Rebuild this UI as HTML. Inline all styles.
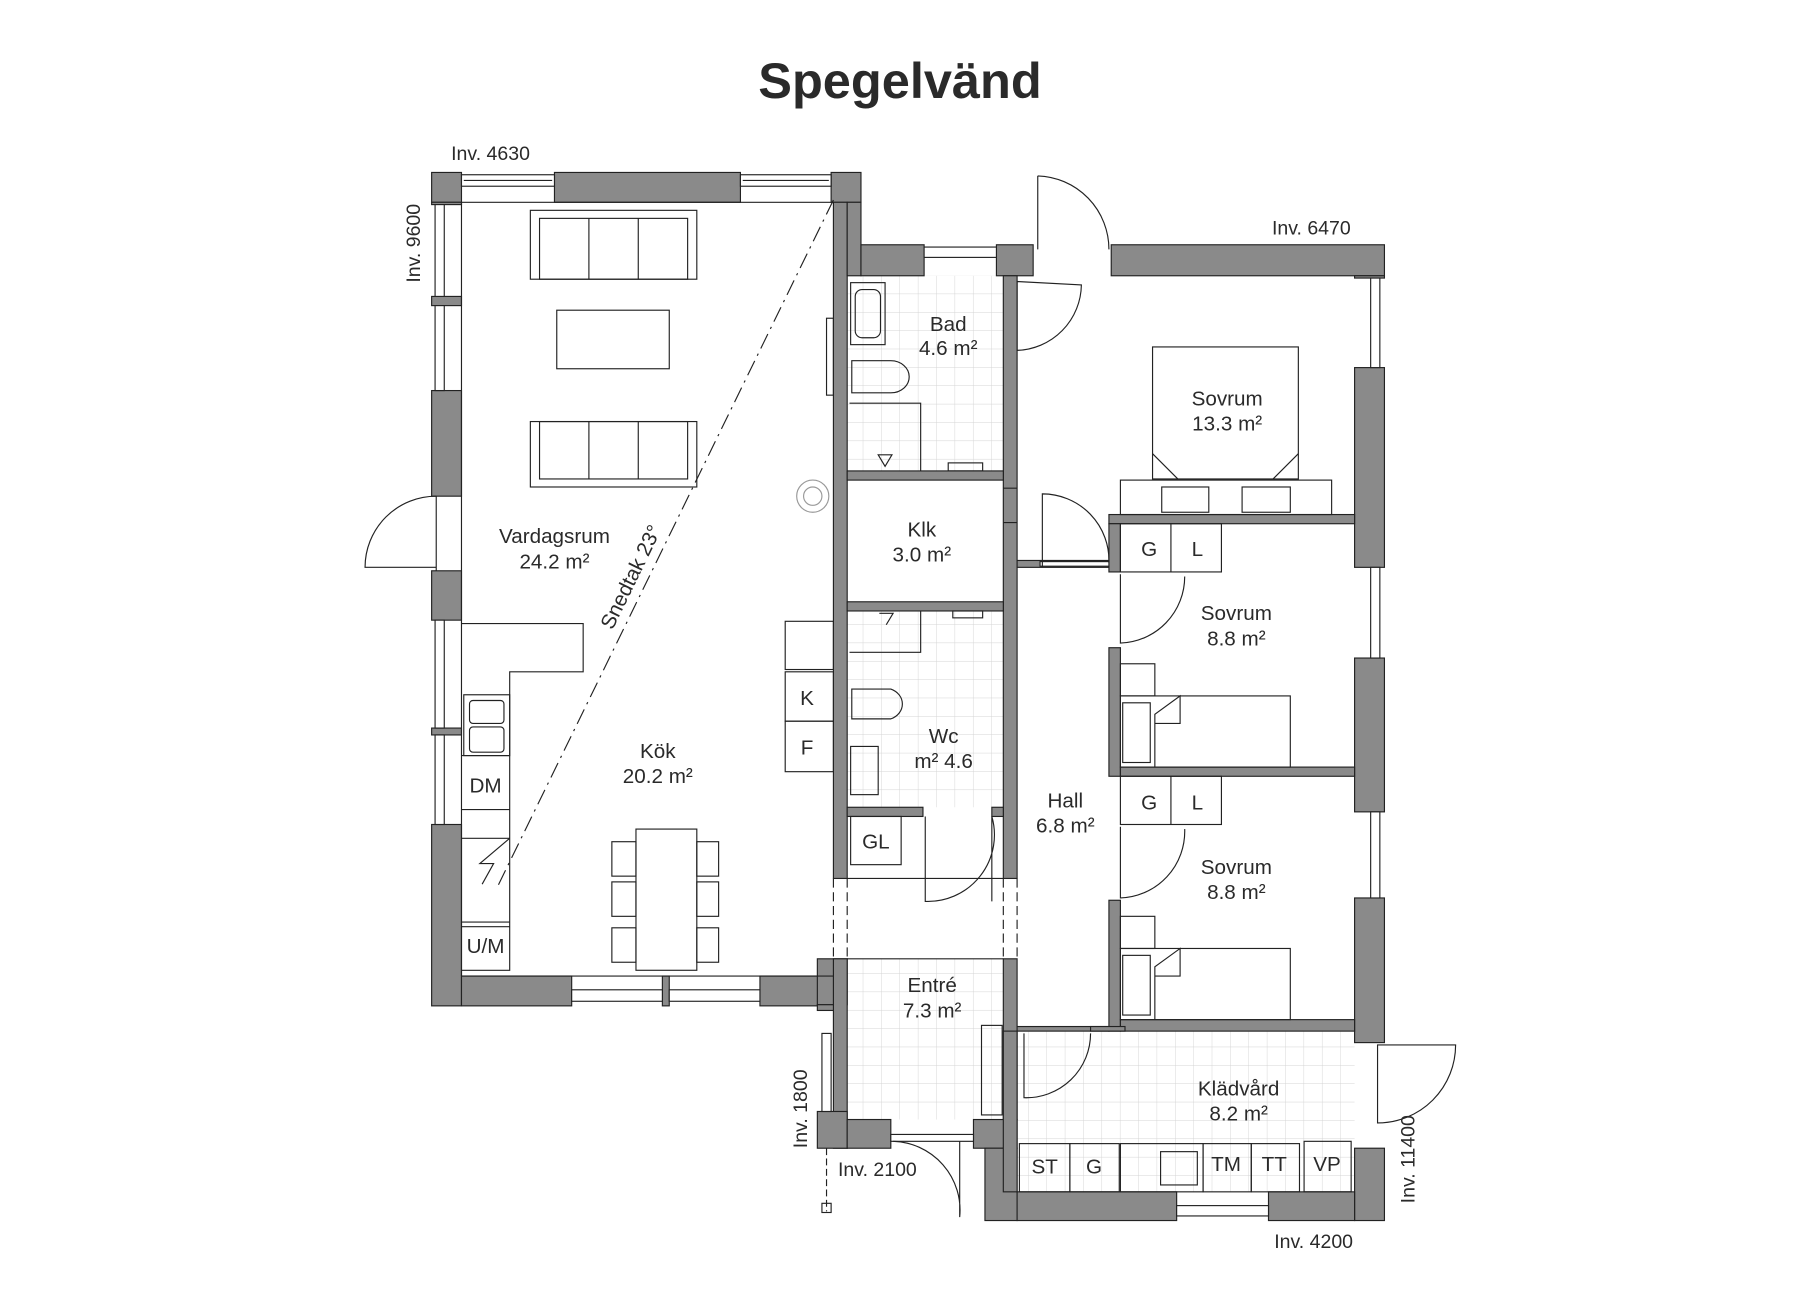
<!DOCTYPE html>
<html><head><meta charset="utf-8"><style>
html,body{margin:0;padding:0;background:#fff}
svg{display:block}
text{font-family:"Liberation Sans",sans-serif;fill:#2a2a2a}
</style></head><body>
<svg width="1800" height="1300" viewBox="0 0 1568 1132" xmlns="http://www.w3.org/2000/svg">
<defs>
<pattern id="tile" width="16" height="16" patternUnits="userSpaceOnUse">
<path d="M16 0V16H0" fill="none" stroke="#d4d4d4" stroke-width="0.8"/>
</pattern>
</defs>
<rect width="1568" height="1132" fill="#fff"/>
<text x="784" y="85" font-size="44" font-weight="bold" text-anchor="middle" fill="#333">Spegelvänd</text>

<rect x="738" y="240" width="136" height="170" fill="url(#tile)"/>
<rect x="738" y="532" width="136" height="171" fill="url(#tile)"/>
<rect x="738" y="835" width="136" height="140" fill="url(#tile)"/>
<rect x="886" y="898" width="294" height="140" fill="url(#tile)"/>

<g fill="#8a8a8a" stroke="#222" stroke-width="1">
<rect x="376" y="150" width="26" height="26"/>
<rect x="483" y="150" width="162" height="26"/>
<rect x="724" y="150" width="26" height="26"/>
<rect x="376" y="176" width="26" height="2"/>
<rect x="376" y="258" width="26" height="8"/>
<rect x="376" y="340" width="26" height="92"/>
<rect x="376" y="497" width="26" height="43"/>
<rect x="376" y="634" width="26" height="6"/>
<rect x="376" y="718" width="26" height="158"/>
<rect x="402" y="850" width="96" height="26"/>
<rect x="577" y="850" width="6" height="26"/>
<rect x="662" y="850" width="64" height="26"/>
<rect x="726" y="176" width="12" height="589"/>
<rect x="738" y="176" width="12" height="64"/>
<rect x="750" y="213" width="55" height="27"/>
<rect x="868" y="213" width="32" height="27"/>
<rect x="874" y="240" width="12" height="525"/>
<rect x="738" y="410" width="136" height="8"/>
<rect x="738" y="524" width="136" height="8"/>
<rect x="738" y="703" width="66" height="8"/>
<rect x="864" y="703" width="10" height="8"/>
<rect x="712" y="835" width="26" height="40"/>
<rect x="726" y="835" width="12" height="165"/>
<rect x="712" y="875" width="14" height="5"/>
<rect x="712" y="968" width="26" height="32"/>
<rect x="738" y="975" width="38" height="25"/>
<rect x="848" y="975" width="38" height="25"/>
<rect x="874" y="835" width="12" height="140"/>
<rect x="858" y="1000" width="28" height="63"/>
<rect x="968" y="213" width="238" height="27"/>
<rect x="1180" y="240" width="26" height="2"/>
<rect x="1180" y="320" width="26" height="174"/>
<rect x="1180" y="573" width="26" height="134"/>
<rect x="1180" y="782" width="26" height="126"/>
<rect x="1180" y="1000" width="26" height="63"/>
<rect x="886" y="1038" width="139" height="25"/>
<rect x="1105" y="1038" width="75" height="25"/>
<rect x="886" y="488" width="80" height="6"/>
<rect x="966" y="448" width="214" height="8"/>
<rect x="966" y="456" width="10" height="42"/>
<rect x="966" y="564" width="10" height="112"/>
<rect x="976" y="668" width="204" height="8"/>
<rect x="966" y="784" width="10" height="114"/>
<rect x="976" y="888" width="204" height="10"/>
<rect x="886" y="894" width="80" height="4"/>
<rect x="950" y="894" width="30" height="4"/>
<rect x="874" y="898" width="12" height="140"/>
</g>

<g fill="#fff" stroke="#222" stroke-width="1">
<rect x="402" y="152" width="81" height="10"/><line x1="404" y1="157" x2="481" y2="157"/>
<rect x="645" y="152" width="79" height="10"/><line x1="647" y1="157" x2="722" y2="157"/>
<rect x="379" y="178" width="8" height="80"/><rect x="379" y="266" width="8" height="74"/>
<rect x="379" y="540" width="8" height="94"/><rect x="379" y="640" width="8" height="78"/>
<rect x="498" y="862" width="79" height="10"/><rect x="583" y="862" width="79" height="10"/>
<rect x="805" y="215" width="63" height="9"/>
<rect x="1194" y="242" width="8" height="78"/><rect x="1194" y="494" width="8" height="79"/>
<rect x="1194" y="707" width="8" height="75"/>
<rect x="1025" y="1050" width="80" height="9"/>
<rect x="776" y="988" width="72" height="6"/>
<rect x="716" y="900" width="8" height="68"/>
<rect x="906" y="489" width="60" height="4"/>
</g>
<g fill="none" stroke="#222" stroke-width="1">
<line x1="402" y1="176" x2="726" y2="176"/>
<line x1="402" y1="176" x2="402" y2="850"/>
<line x1="402" y1="850" x2="726" y2="850"/>
<path d="M380 432 A62 62 0 0 0 318 494 L380 494"/>
<line x1="380" y1="432" x2="380" y2="497"/>
<path d="M904 153 A64 64 0 0 1 966 217 M904 153 V217"/>
<path d="M886 245 L886 305 A58 58 0 0 0 942 248 Z"/>
<path d="M908 494 V430 A58 58 0 0 1 966 490"/>
<path d="M976 500 V560 A58 58 0 0 0 1032 502"/>
<path d="M976 720 V782 A58 58 0 0 0 1032 722"/>
<path d="M806 711 V785 A58 58 0 0 0 864 711 V785"/>
<path d="M892 900 V956 A56 56 0 0 0 950 900"/>
<path d="M1200 910 H1268 A68 68 0 0 1 1200 978 Z"/>
<path d="M778 994 A60 60 0 0 1 836 1060 V994"/>
<path d="M874 425 H886 M874 455 H886"/>
<line x1="726" y1="765" x2="726" y2="835" stroke-dasharray="8,4"/>
<line x1="738" y1="765" x2="738" y2="835" stroke-dasharray="8,4"/>
<line x1="874" y1="765" x2="874" y2="835" stroke-dasharray="8,4"/>
<line x1="886" y1="765" x2="886" y2="835" stroke-dasharray="8,4"/>
<line x1="738" y1="765" x2="874" y2="765"/>
<line x1="738" y1="835" x2="874" y2="835"/>
<line x1="720" y1="1000" x2="720" y2="1055" stroke-dasharray="6,3"/>
<rect x="716" y="1048" width="8" height="8"/>
<line x1="726" y1="174" x2="432" y2="775" stroke-dasharray="14,5,2,5"/>
<rect x="462" y="183" width="145" height="60"/><rect x="470" y="190" width="129" height="53"/>
<line x1="513" y1="190" x2="513" y2="243"/><line x1="556" y1="190" x2="556" y2="243"/>
<rect x="485" y="270" width="98" height="51"/>
<rect x="462" y="367" width="145" height="57"/><rect x="470" y="367" width="129" height="50"/>
<line x1="513" y1="367" x2="513" y2="417"/><line x1="556" y1="367" x2="556" y2="417"/>
<circle cx="708" cy="432" r="14" stroke="#999"/><circle cx="708" cy="432" r="8" stroke="#999"/>
<rect x="720" y="277" width="6" height="67"/>
<path d="M402 543 H508 V585 H444 V845 H402"/>
<rect x="404" y="605" width="40" height="53"/>
<rect x="409" y="610" width="30" height="20" rx="3"/><rect x="409" y="633" width="30" height="22" rx="3"/>
<line x1="402" y1="658" x2="444" y2="658"/><line x1="402" y1="705" x2="444" y2="705"/>
<line x1="402" y1="730" x2="444" y2="730"/><line x1="402" y1="803" x2="444" y2="803"/>
<path d="M444 730 L418 752 L430 752 L420 770"/>
<line x1="402" y1="807" x2="444" y2="807"/>
<rect x="554" y="722" width="53" height="123"/>
<rect x="533" y="733" width="21" height="30"/><rect x="533" y="768" width="21" height="30"/><rect x="533" y="808" width="21" height="30"/>
<rect x="607" y="733" width="19" height="30"/><rect x="607" y="768" width="19" height="30"/><rect x="607" y="808" width="19" height="30"/>
<rect x="684" y="541" width="42" height="42"/><rect x="684" y="585" width="42" height="43"/><rect x="684" y="628" width="42" height="44"/>
<rect x="741" y="246" width="30" height="54"/><rect x="745" y="252" width="22" height="42" rx="6"/>
<path d="M742 314 H776 A16 14 0 0 1 776 342 H742 Z"/>
<path d="M740 351 H802 V410"/>
<path d="M765 396 L777 396 L771 406 Z"/>
<rect x="826" y="403" width="30" height="7"/>
<path d="M742 600 H776 A16 14 0 0 1 776 626 H742 Z"/>
<path d="M740 568 H802 V532"/>
<rect x="741" y="650" width="24" height="42"/>
<path d="M766 534 L778 534 L772 544"/>
<rect x="830" y="532" width="26" height="6"/>
<rect x="741" y="711" width="44" height="42"/>
<rect x="855" y="893" width="18" height="78"/>
<rect x="1004" y="302" width="127" height="115"/>
<path d="M1004 395 L1026 417 M1131 395 L1109 417"/>
<rect x="976" y="418" width="184" height="30"/>
<rect x="1012" y="424" width="41" height="22"/><rect x="1082" y="424" width="42" height="22"/>
<rect x="976" y="456" width="88" height="42"/><line x1="1020" y1="456" x2="1020" y2="498"/>
<rect x="976" y="578" width="30" height="28"/>
<rect x="976" y="606" width="148" height="62"/><rect x="978" y="612" width="24" height="52"/>
<path d="M1006 668 V622 L1028 606 V630 L1006 630"/>
<rect x="976" y="676" width="88" height="42"/><line x1="1020" y1="676" x2="1020" y2="718"/>
<rect x="976" y="798" width="30" height="28"/>
<rect x="976" y="826" width="148" height="62"/><rect x="978" y="832" width="24" height="52"/>
<path d="M1006 888 V842 L1028 826 V850 L1006 850"/>
<rect x="888" y="996" width="44" height="42"/><rect x="932" y="996" width="43" height="42"/>
<rect x="976" y="996" width="72" height="42"/><rect x="1011" y="1003" width="32" height="29"/>
<rect x="1048" y="996" width="42" height="42"/><rect x="1090" y="996" width="42" height="42"/>
<rect x="1136" y="994" width="41" height="44"/>
</g>

<g font-size="18" text-anchor="middle">
<text x="826" y="288">Bad</text><text x="826" y="309">4.6 m²</text>
<text x="483" y="473">Vardagsrum</text><text x="483" y="495">24.2 m²</text>
<text x="803" y="467">Klk</text><text x="803" y="489">3.0 m²</text>
<text x="1069" y="353">Sovrum</text><text x="1069" y="375">13.3 m²</text>
<text x="1077" y="540">Sovrum</text><text x="1077" y="562">8.8 m²</text>
<text x="1077" y="761">Sovrum</text><text x="1077" y="783">8.8 m²</text>
<text x="573" y="660">Kök</text><text x="573" y="682">20.2 m²</text>
<text x="822" y="647">Wc</text><text x="822" y="669">m² 4.6</text>
<text x="928" y="703">Hall</text><text x="928" y="725">6.8 m²</text>
<text x="812" y="864">Entré</text><text x="812" y="886">7.3 m²</text>
<text x="1079" y="954">Klädvård</text><text x="1079" y="976">8.2 m²</text>
<text x="1001" y="484">G</text><text x="1043" y="484">L</text>
<text x="1001" y="705">G</text><text x="1043" y="705">L</text>
<text x="703" y="614">K</text><text x="703" y="657">F</text>
<text x="423" y="690">DM</text><text x="423" y="830">U/M</text>
<text x="763" y="739">GL</text>
<text x="910" y="1022">ST</text><text x="953" y="1022">G</text>
<text x="1068" y="1020">TM</text><text x="1110" y="1020">TT</text><text x="1156" y="1020">VP</text>
<text x="555" y="505" transform="rotate(-64 555 505)">Snedtak 23°</text>
</g>
<g font-size="17">
<text x="393" y="139">Inv. 4630</text>
<text x="1108" y="204">Inv. 6470</text>
<text x="730" y="1024">Inv. 2100</text>
<text x="1110" y="1087">Inv. 4200</text>
<text transform="translate(366 246) rotate(-90)">Inv. 9600</text>
<text transform="translate(703 1000) rotate(-90)">Inv. 1800</text>
<text transform="translate(1232 1048) rotate(-90)">Inv. 11400</text>
</g>
</svg>
</body></html>
